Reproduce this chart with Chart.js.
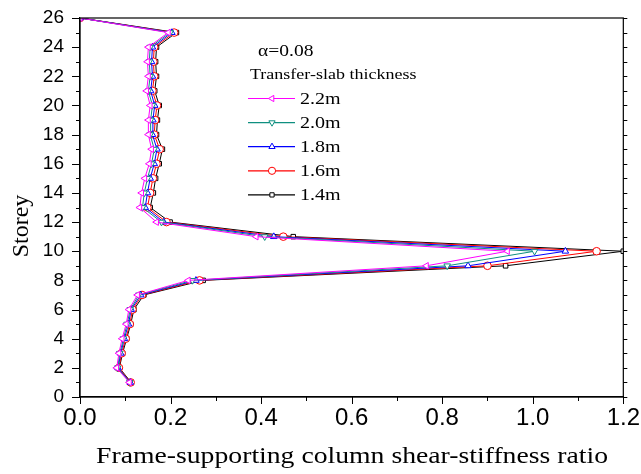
<!DOCTYPE html>
<html>
<head>
<meta charset="utf-8">
<script src="https://cdn.jsdelivr.net/npm/chart.js@4.4.1/dist/chart.umd.min.js"></script>
<style>
  html, body { margin: 0; padding: 0; background: #fff; }
  #wrap { width: 641px; height: 474px; }
</style>
</head>
<body>
<div id="wrap"><canvas id="graphique"></canvas></div>
<script>
// Storeys (y axis)
var storeys = [1, 2, 3, 4, 5, 6, 7, 8, 9, 10, 11, 12, 13, 14, 15, 16, 17, 18, 19, 20, 21, 22, 23, 24, 25, 26];

// Shear-stiffness ratio per storey, one list per transfer-slab thickness
var ratio22 = [0.109, 0.081, 0.086, 0.093, 0.102, 0.108, 0.127, 0.239, 0.765, 0.944, 0.389, 0.169, 0.132,
               0.136, 0.143, 0.153, 0.158, 0.151, 0.151, 0.155, 0.147, 0.151, 0.149, 0.151, 0.195, 0];
var ratio20 = [0.110, 0.083, 0.088, 0.096, 0.104, 0.111, 0.130, 0.248, 0.811, 1.004, 0.408, 0.180, 0.138,
               0.142, 0.149, 0.158, 0.164, 0.155, 0.156, 0.160, 0.151, 0.155, 0.153, 0.155, 0.199, 0];
var ratio18 = [0.111, 0.084, 0.090, 0.098, 0.107, 0.113, 0.134, 0.256, 0.857, 1.072, 0.428, 0.185, 0.144,
               0.149, 0.155, 0.164, 0.170, 0.160, 0.161, 0.165, 0.156, 0.160, 0.158, 0.160, 0.203, 0];
var ratio16 = [0.112, 0.086, 0.092, 0.101, 0.110, 0.116, 0.137, 0.264, 0.900, 1.141, 0.449, 0.191, 0.149,
               0.155, 0.161, 0.169, 0.176, 0.164, 0.166, 0.170, 0.160, 0.164, 0.162, 0.164, 0.208, 0];
var ratio14 = [0.113, 0.087, 0.094, 0.103, 0.112, 0.119, 0.141, 0.272, 0.940, 1.200, 0.471, 0.199, 0.155,
               0.162, 0.167, 0.175, 0.182, 0.169, 0.171, 0.175, 0.165, 0.169, 0.167, 0.169, 0.213, 0];

var seriesLabels = ["2.2m", "2.0m", "1.8m", "1.6m", "1.4m"];
var seriesValues = [ratio22, ratio20, ratio18, ratio16, ratio14];
var seriesColors = ["#ff00ff", "#0f8f80", "#0000ff", "#ff0000", "#000000"];
var seriesMarkers = ["triangle", "triangle", "triangle", "circle", "rect"];
var markerRotation = [-90, 180, 0, 0, 0];

var serif = '"Liberation Serif", "Times New Roman", serif';
var sans = '"Liberation Sans", Arial, sans-serif';

function makePoints(values) {
  var pts = [];
  for (var i = 0; i < storeys.length; i++) {
    pts.push({ x: values[i], y: storeys[i] });
  }
  return pts;
}

var datasets = [];
for (var k = 0; k < seriesLabels.length; k++) {
  datasets.push({
    label: seriesLabels[k],
    data: makePoints(seriesValues[k]),
    borderColor: seriesColors[k],
    backgroundColor: "#ffffff",
    borderWidth: 1,
    pointStyle: seriesMarkers[k],
    rotation: markerRotation[k],
    pointRadius: seriesMarkers[k] === "rect" ? 3.2 : 3.8,
    pointBorderWidth: 1,
    showLine: true,
    tension: 0
  });
}

// text stretched horizontally like the original figure
function wideText(ctx, txt, x, y, sx) {
  ctx.save();
  ctx.translate(x, y);
  ctx.scale(sx, 1);
  ctx.fillText(txt, 0, 0);
  ctx.restore();
}

// Legend, titles, frame and tick marks
var slabLegend = {
  id: "slabLegend",
  afterDraw: function(chart) {
    var ctx = chart.ctx;
    var a = chart.chartArea;
    var xs = chart.scales.x;
    var ys = chart.scales.y;
    ctx.save();
    ctx.fillStyle = "#000";
    ctx.textBaseline = "middle";
    ctx.textAlign = "left";
    ctx.font = "16px " + serif;
    wideText(ctx, "\u03b1=0.08", 258, 52, 1.22);
    ctx.font = "15px " + serif;
    wideText(ctx, "Transfer-slab thickness", 250, 75, 1.2);
    for (var i = 0; i < seriesLabels.length; i++) {
      var y = 98.5 + i * 24.1;
      ctx.strokeStyle = seriesColors[i];
      ctx.lineWidth = 1.2;
      ctx.beginPath();
      ctx.moveTo(248, y);
      ctx.lineTo(295, y);
      ctx.stroke();
      ctx.fillStyle = "#fff";
      ctx.lineWidth = 1;
      Chart.helpers.drawPoint(ctx, {
        pointStyle: seriesMarkers[i],
        rotation: markerRotation[i],
        radius: seriesMarkers[i] === "rect" ? 3 : 3.6,
        borderWidth: 1
      }, 272, y);
      ctx.fillStyle = "#000";
      ctx.font = "17px " + serif;
      wideText(ctx, seriesLabels[i], 300, y + 1, 1.18);
    }

    // axis titles
    ctx.font = "23px " + serif;
    ctx.textBaseline = "alphabetic";
    var title = "Frame-supporting column shear-stiffness ratio";
    var w = ctx.measureText(title).width;
    var sx = 512 / w;
    wideText(ctx, title, 352 - 256, 463, sx);
    ctx.save();
    ctx.translate(28, 226);
    ctx.rotate(-Math.PI / 2);
    ctx.textAlign = "center";
    ctx.font = "24px " + serif;
    ctx.fillText("Storey", 0, 0);
    ctx.restore();

    // frame
    ctx.strokeStyle = "#000";
    ctx.lineWidth = 1.2;
    ctx.strokeRect(a.left, a.top, a.right - a.left, a.bottom - a.top);

    // tick marks: major long, minor short, outward
    ctx.lineWidth = 1;
    ctx.beginPath();
    for (var t = 0; t <= 12; t++) {
      var px = Math.round(xs.getPixelForValue(t / 10)) + 0.5;
      ctx.moveTo(px, a.bottom);
      ctx.lineTo(px, a.bottom + (t % 2 === 0 ? 7 : 4));
    }
    for (var s = 0; s <= 26; s++) {
      var py = Math.round(ys.getPixelForValue(s)) + 0.5;
      ctx.moveTo(a.left, py);
      ctx.lineTo(a.left - (s % 2 === 0 ? 8 : 4), py);
      ctx.moveTo(a.right, py);
      ctx.lineTo(a.right + 4, py);
    }
    ctx.stroke();
    ctx.restore();
  }
};

var ctx = document.getElementById("graphique").getContext("2d");

var chart = new Chart(ctx, {
  type: "scatter",
  data: { datasets: datasets },
  options: {
    responsive: true,
    maintainAspectRatio: false,
    animation: false,
    layout: { padding: { top: 18, left: 0, right: 17, bottom: 0 } },
    plugins: {
      legend: { display: false },
      tooltip: { enabled: false }
    },
    scales: {
      x: {
        type: "linear",
        min: 0,
        max: 1.2,
        afterFit: function(scale) { scale.height = 474 - 397; },
        ticks: {
          stepSize: 0.2,
          autoSkip: false,
          maxRotation: 0,
          padding: 1,
          color: "#000",
          font: { family: sans, size: 24 },
          callback: function(v) { return v.toFixed(1); }
        },
        grid: { drawOnChartArea: false, drawTicks: true, tickLength: 6, tickColor: "rgba(0,0,0,0)" },
        border: { display: true, color: "#000", width: 1.2 }
      },
      y: {
        type: "linear",
        min: 0,
        max: 26,
        afterFit: function(scale) { scale.width = 80; },
        ticks: {
          stepSize: 2,
          autoSkip: false,
          padding: 3,
          color: "#000",
          font: { family: sans, size: 19 }
        },
        grid: { drawOnChartArea: false, drawTicks: true, tickLength: 13, tickColor: "rgba(0,0,0,0)" },
        border: { display: true, color: "#000", width: 1.2 }
      }
    }
  },
  plugins: [slabLegend]
});
</script>
</body>
</html>
